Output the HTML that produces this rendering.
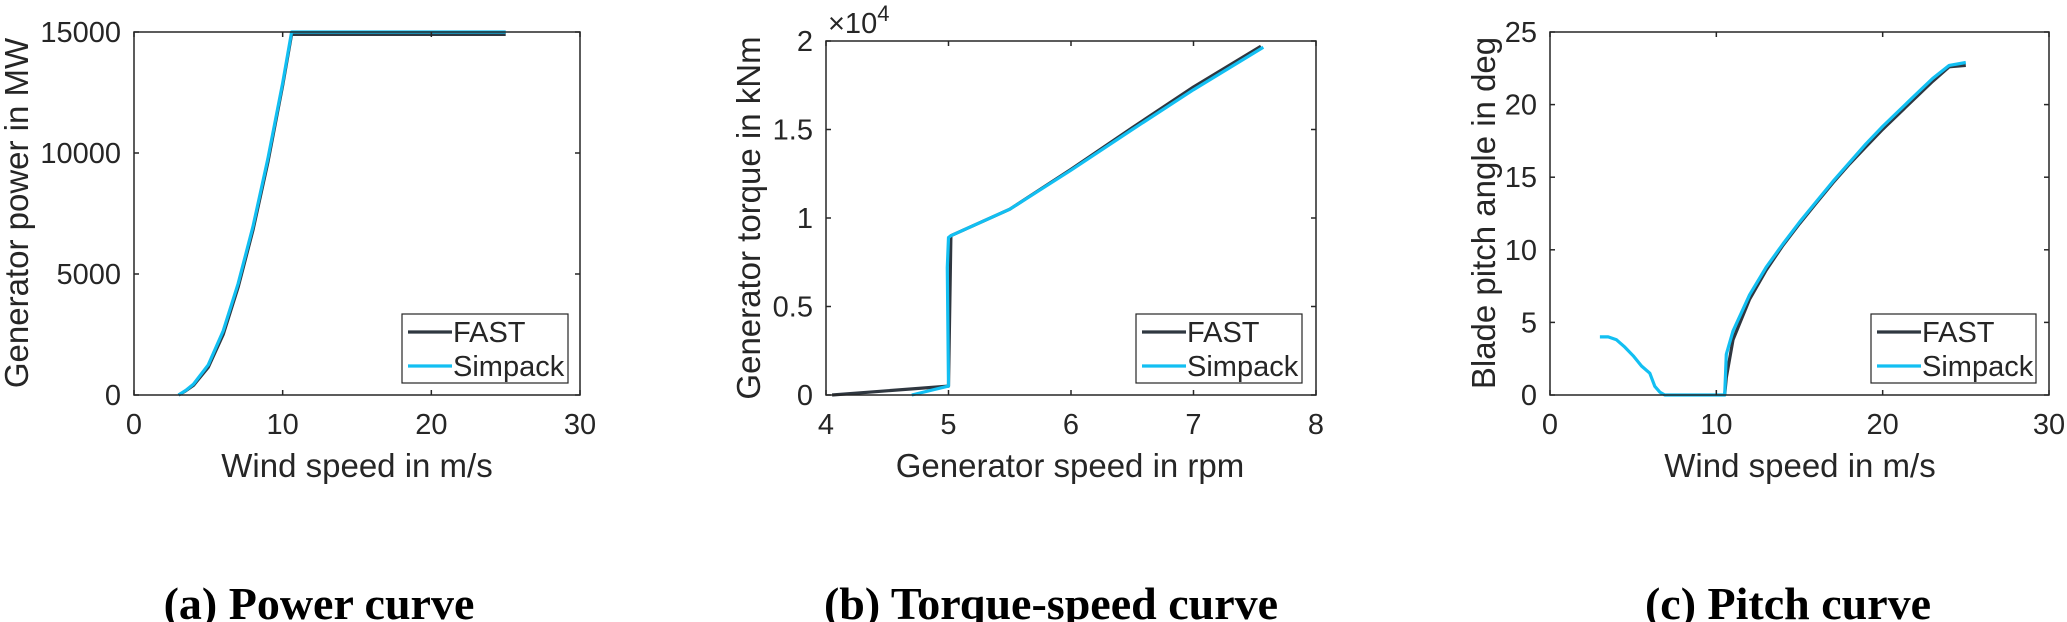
<!DOCTYPE html>
<html><head><meta charset="utf-8"><style>
html,body{margin:0;padding:0;background:#fff;}
svg{display:block;font-family:"Liberation Sans",Arial,sans-serif;}
.tick{font-size:29px;fill:#262626;}
.lab{font-size:33px;fill:#262626;}
.cap{font-family:"Liberation Serif","Times New Roman",serif;font-weight:bold;font-size:46px;fill:#000;}
</style></head><body>
<svg id="fig" width="2067" height="622" viewBox="0 0 2067 622" xmlns="http://www.w3.org/2000/svg"></svg>
<script>
// ---- data ----
const powerFastX = [3, 3.5, 4, 5, 6, 7, 8, 9, 10, 10.6, 25];
const powerFastY = [0, 180, 400, 1150, 2500, 4450, 6800, 9600, 12800, 14900, 14900];
const powerSimX = [3, 3.5, 4, 5, 6, 7, 8, 9, 10, 10.6, 25];
const powerSimY = [0, 200, 450, 1250, 2650, 4600, 6950, 9750, 12900, 15000, 15000];
const torqueFastX = [4.05, 5.0, 5.0, 5.02, 5.5, 6, 6.5, 7, 7.55];
const torqueFastY = [0, 500, 500, 9000, 10500, 12750, 15100, 17400, 19700];
const torqueSimX = [4.7, 5.0, 4.99, 5.0, 5.02, 5.5, 6, 6.5, 7, 7.57];
const torqueSimY = [0, 500, 7200, 8900, 9000, 10500, 12700, 15000, 17250, 19650];
const pitchFastX = [10.5, 10.6, 11, 12, 13, 14, 15, 16, 17, 18, 19, 20, 21, 22, 23, 24, 25];
const pitchFastY = [0, 1.2, 3.8, 6.6, 8.6, 10.3, 11.8, 13.2, 14.6, 15.9, 17.1, 18.3, 19.4, 20.5, 21.6, 22.6, 22.7];
const pitchSimX = [3, 3.5, 4, 4.5, 5, 5.5, 6, 6.3, 6.6, 6.9, 10.5, 10.6, 11, 12, 13, 14, 15, 16, 17, 18, 19, 20, 21, 22, 23, 24, 25];
const pitchSimY = [4, 4, 3.8, 3.3, 2.7, 2.0, 1.5, 0.6, 0.2, 0, 0, 2.8, 4.4, 6.9, 8.8, 10.4, 11.9, 13.3, 14.7, 16.0, 17.3, 18.5, 19.6, 20.7, 21.8, 22.7, 22.9];
const ticksA_x = [0, 10, 20, 30], ticksA_y = [0, 5000, 10000, 15000];
const ticksB_x = [4, 5, 6, 7, 8], ticksB_y = [0, 0.5, 1, 1.5, 2];
const ticksB_yLabels = ["0", "0.5", "1", "1.5", "2"];
const ticksC_x = [0, 10, 20, 30], ticksC_y = [0, 5, 10, 15, 20, 25];

const NS = "http://www.w3.org/2000/svg";
const svg = document.getElementById("fig");
function el(tag, attrs, parent, txt) {
  const e = document.createElementNS(NS, tag);
  for (const k in attrs) e.setAttribute(k, attrs[k]);
  if (txt !== undefined) e.textContent = txt;
  (parent || svg).appendChild(e);
  return e;
}
const FAST = "#2f3740", SIM = "#12bff2";

function panel(o) {
  const g = el("g", {}, svg);
  
  
  const sx = v => o.L + (v - o.x0) / (o.x1 - o.x0) * (o.R - o.L);
  const sy = v => o.B - (v - o.y0) / (o.y1 - o.y0) * (o.B - o.T);
  o.series.forEach(s => {
    const d = s.x.map((v, i) => (i ? "L" : "M") + sx(v).toFixed(1) + " " + sy(s.y[i] * (s.k || 1)).toFixed(1)).join(" ");
    const p = el("path", {d: d, fill: "none", stroke: s.c, "stroke-width": 3.2, "stroke-linejoin": "round"}, g);
    
    
  });
  const box = el("rect", {x: o.L, y: o.T, width: o.R - o.L, height: o.B - o.T, fill: "none", stroke: "#262626", "stroke-width": 1.5}, g);
  
  
  o.xt.forEach(v => {
    const x = sx(v);
    el("line", {x1: x, x2: x, y1: o.B, y2: o.B - 5, stroke: "#262626", "stroke-width": 1.5}, g);
    el("line", {x1: x, x2: x, y1: o.T, y2: o.T + 5, stroke: "#262626", "stroke-width": 1.5}, g);
    const t = el("text", {x: x, y: 434, "text-anchor": "middle", class: "tick"}, g, String(v));
    
    
  });
  o.yt.forEach((v, i) => {
    const y = sy(v);
    el("line", {x1: o.L, x2: o.L + 5, y1: y, y2: y, stroke: "#262626", "stroke-width": 1.5}, g);
    el("line", {x1: o.R, x2: o.R - 5, y1: y, y2: y, stroke: "#262626", "stroke-width": 1.5}, g);
    const t = el("text", {x: o.L - 13, y: y + 10, "text-anchor": "end", class: "tick"}, g, o.ytl ? o.ytl[i] : String(v));
    
    
  });
  const xl = el("text", {x: o.xlx, y: 477, "text-anchor": "middle", class: "lab"}, g, o.xlab);
  
  
  const yl = el("text", {x: 0, y: 0, "text-anchor": "middle", class: "lab", transform: "translate(" + (o.ylx + 12) + "," + o.yly + ") rotate(-90)"}, g, o.ylab);
  
  
  const lg = el("g", {}, g);
  
  
  el("rect", {x: o.lx, y: 314, width: o.lw, height: 69, fill: "#fff", stroke: "#262626", "stroke-width": 1.2}, lg);
  [["FAST", FAST, 332], ["Simpack", SIM, 366]].forEach(e => {
    const ent = el("g", {}, lg);
    
    
    el("line", {x1: o.lx + 6, x2: o.lx + 50, y1: e[2], y2: e[2], stroke: e[1], "stroke-width": 3.2}, ent);
    el("text", {x: o.lx + 51, y: e[2] + 10, class: "tick"}, ent, e[0]);
  });
  const cap = el("text", {x: o.capx, y: 619, "text-anchor": "middle", class: "cap"}, g, o.cap);
  
  
  return g;
}

panel({name: "power-curve-chart", L: 134, R: 580, T: 32, B: 395, x0: 0, x1: 30, y0: 0, y1: 15000,
  xt: ticksA_x, yt: ticksA_y, xlab: "Wind speed in m/s", xlx: 357, ylab: "Generator power in MW", ylx: 16, yly: 213,
  lx: 402, lw: 166, cap: "(a) Power curve", capx: 319,
  series: [{x: powerFastX, y: powerFastY, c: FAST, n: "fast-power-line"}, {x: powerSimX, y: powerSimY, c: SIM, n: "simpack-power-line"}]});
panel({name: "torque-speed-chart", L: 826, R: 1316, T: 41, B: 395, x0: 4, x1: 8, y0: 0, y1: 2,
  xt: ticksB_x, yt: ticksB_y, ytl: ticksB_yLabels, xlab: "Generator speed in rpm", xlx: 1070, ylab: "Generator torque in kNm", ylx: 748, yly: 218,
  lx: 1136, lw: 166, cap: "(b) Torque-speed curve", capx: 1051,
  series: [{x: torqueFastX, y: torqueFastY, k: 1e-4, c: FAST, n: "fast-torque-line"}, {x: torqueSimX, y: torqueSimY, k: 1e-4, c: SIM, n: "simpack-torque-line"}]});
const ex = el("text", {x: 828, y: 33, class: "tick"}, svg, "×10");


el("tspan", {dy: -12, "font-size": "22px"}, ex, "4");
panel({name: "pitch-curve-chart", L: 1550, R: 2049, T: 32, B: 395, x0: 0, x1: 30, y0: 0, y1: 25,
  xt: ticksC_x, yt: ticksC_y, xlab: "Wind speed in m/s", xlx: 1800, ylab: "Blade pitch angle in deg", ylx: 1483, yly: 213,
  lx: 1871, lw: 165, cap: "(c) Pitch curve", capx: 1788,
  series: [{x: pitchFastX, y: pitchFastY, c: FAST, n: "fast-pitch-line"}, {x: pitchSimX, y: pitchSimY, c: SIM, n: "simpack-pitch-line"}]});
</script>
</body></html>
